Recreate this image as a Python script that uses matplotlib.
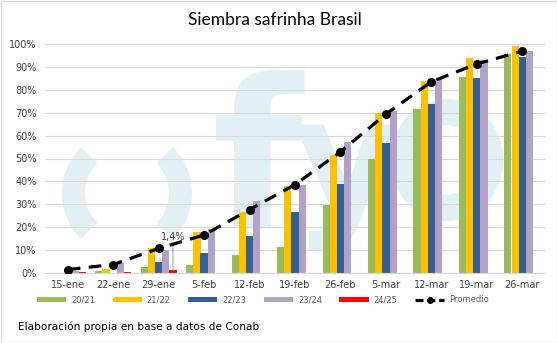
import numpy as np
import matplotlib
matplotlib.use("Agg")
import matplotlib.pyplot as plt
from matplotlib.patches import Patch, Wedge, Rectangle, Ellipse
from matplotlib.lines import Line2D

categories = ['15-ene', '22-ene', '29-ene', '5-feb', '12-feb', '19-feb',
              '26-feb', '5-mar', '12-mar', '19-mar', '26-mar']
s_2021 = [0.0, 0.7, 2.6, 3.7, 7.7, 11.4, 29.9, 50.0, 71.7, 85.7, 95.6]
s_2122 = [0.0, 1.6, 10.7, 17.8, 26.7, 37.9, 51.7, 69.7, 83.8, 93.7, 99.1]
s_2223 = [0.0, 0.0, 4.9, 8.9, 16.0, 26.7, 38.8, 56.9, 73.9, 85.0, 94.2]
s_2324 = [0.7, 4.4, 10.0, 19.4, 31.3, 38.6, 57.0, 70.8, 84.6, 93.0, 96.9]
s_2425 = [0.3, 0.3, 1.4, np.nan, np.nan, np.nan, np.nan, np.nan, np.nan, np.nan, np.nan]
promedio = [1.5, 3.7, 10.7, 16.6, 27.7, 38.6, 52.9, 69.4, 83.5, 91.3, 96.9]
series_names = ['20/21', '21/22', '22/23', '23/24', '24/25']
yticks = [0, 10, 20, 30, 40, 50, 60, 70, 80, 90, 100]

colors = ['#9BBB59', '#FFC000', '#376092', '#B3A2C7', '#FF0000']
W, H = 557, 343

fig = plt.figure(figsize=(W / 100, H / 100), dpi=100)
fig.patch.set_facecolor('white')

# watermark (fyo logo), placed in inches (1 in = 100 px)
wm = '#e2eff5'
tin = fig.dpi_scale_trans
for t1, t2 in [(135, 225), (-45, 45)]:
    fig.patches.append(Wedge((1.27, (H - 193) / 100), 0.65, t1, t2, width=0.23,
                             transform=tin, facecolor=wm, edgecolor='none', zorder=-5))
fig.text(212 / W, 1 - 228 / H, 'f', fontsize=150, color=wm, family='DejaVu Sans',
         fontweight='bold', va='baseline', ha='left', zorder=-5)
fig.text(292 / W, 1 - 215 / H, 'y', fontsize=118, color=wm, family='DejaVu Sans',
         fontweight='bold', va='baseline', ha='left', zorder=-5)
fig.patches.append(Ellipse((4.47, (H - 160) / 100), 0.86, 0.96, transform=tin,
                           facecolor='none', edgecolor=wm, linewidth=19, zorder=-5))

ax = fig.add_axes([45 / W, 1 - 273 / H, 500 / W, 229 / H])
ax.set_facecolor('none')

x = np.arange(len(categories))
width = 0.158
for i, (vals, c, name) in enumerate(zip([s_2021, s_2122, s_2223, s_2324, s_2425],
                                        colors, series_names)):
    ax.bar(x + (i - 2) * width, vals, width=width, color=c, zorder=2, label=name)

ax.plot(x, promedio, color='black', linewidth=2.3, dashes=(4, 2.6), marker='o',
        markersize=5.5, zorder=4, label='Promedio')

# data label for 24/25 at 29-ene
xi = 2
ax.annotate('1,4%', xy=(x[xi] + 2 * width, s_2425[xi]), xytext=(0, 20),
            textcoords='offset points', ha='center', va='bottom', fontsize=7,
            color='#404040',
            arrowprops=dict(arrowstyle='-', color='#a6a6a6', lw=0.8, shrinkA=0, shrinkB=0))

ax.set_xlim(-0.5, len(categories) - 0.5)
ax.set_ylim(0, 100)
ax.set_yticks(yticks)
ax.set_yticklabels([f'{v}%' for v in yticks])
ax.set_xticks(x)
ax.set_xticklabels(categories)
ax.tick_params(axis='both', length=0, labelsize=7, colors='#404040')
ax.tick_params(axis='x', pad=5)
ax.tick_params(axis='y', pad=6)
ax.grid(axis='y', color='#d9d9d9', linewidth=0.8, zorder=0)
ax.set_axisbelow(True)
for s in ['top', 'right', 'left']:
    ax.spines[s].set_visible(False)
ax.spines['bottom'].set_color('#d9d9d9')
ax.spines['bottom'].set_linewidth(0.8)

handles = [Patch(facecolor=c, edgecolor='none') for c in colors]
handles.append(Line2D([0], [0], color='black', linewidth=2.3, dashes=(2.5, 1.2),
                      marker='o', markersize=4))
labels = series_names + ['Promedio']
fig.legend(handles, labels, loc='center', bbox_to_anchor=(263 / W, 1 - 300 / H), ncol=6,
           frameon=False, fontsize=6, handlelength=3.5, handleheight=0.55,
           handletextpad=0.6, columnspacing=2.1, labelcolor='#595959')

fig.text(0.493, 1 - 20 / H, 'Siembra safrinha Brasil', ha='center', va='center',
         fontsize=12.5, family='Lato', color='black')
fig.text(18 / W, 1 - 327 / H, 'Elaboración propia en base a datos de Conab', ha='left',
         va='center', fontsize=7.6, color='black')

fig.patches.append(Rectangle((0.5 / W, 0.5 / H), 1 - 1 / W, 1 - 1 / H, transform=fig.transFigure,
                             fill=False, edgecolor='#d9d9d9', linewidth=1))

fig.savefig('out.png', dpi=100)
